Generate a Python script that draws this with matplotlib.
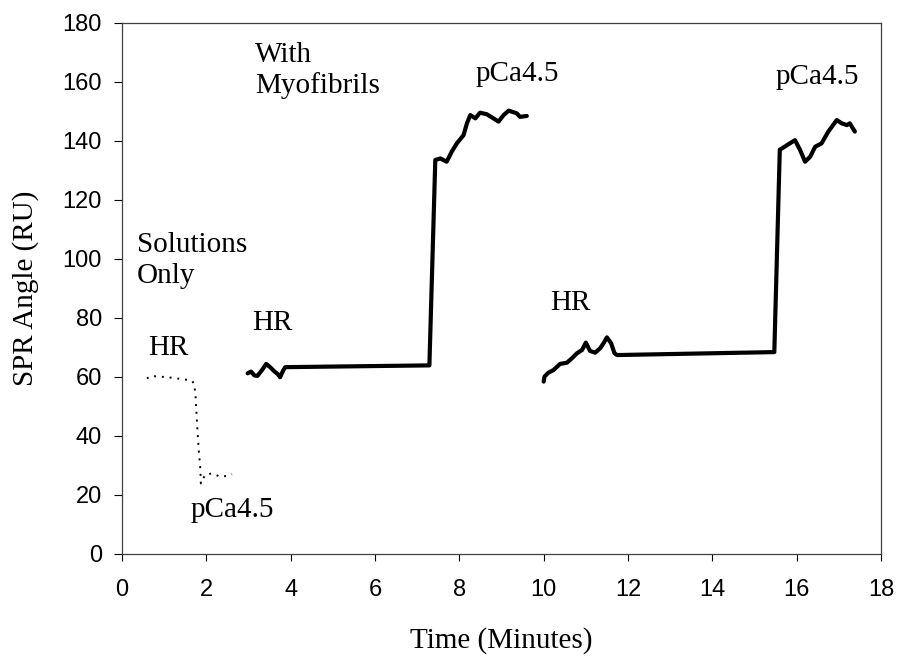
import matplotlib
matplotlib.use('Agg')
import matplotlib.pyplot as plt

# solutions only (dotted trace)
sol_time = [0.59, 0.71, 1.07, 1.46, 1.66, 1.71, 1.74, 1.78, 1.82, 1.86, 1.87, 1.97, 2.13, 2.33, 2.45, 2.61]
sol_spr = [59.5, 60.3, 59.9, 59.2, 58.7, 57.6, 54.4, 44.3, 35.2, 28.5, 23.9, 26.8, 27.3, 26.2, 26.4, 27.0]

# with myofibrils, first run
run1_time = [2.98, 3.06, 3.14, 3.21, 3.32, 3.42, 3.52, 3.61, 3.69, 3.75, 3.82, 3.87, 7.29, 7.43,
             7.55, 7.70, 7.82, 7.94, 8.10, 8.18, 8.26, 8.38, 8.49, 8.65, 8.93, 9.05, 9.17, 9.36, 9.44, 9.60]
run1_spr = [61.2, 61.8, 60.5, 60.3, 62.3, 64.4, 63.2, 61.9, 61.0, 59.9, 62.1, 63.3, 63.9, 133.5,
            134.0, 132.9, 136.3, 139.1, 141.9, 145.9, 148.7, 147.6, 149.5, 149.0, 146.5, 148.7, 150.2, 149.3, 148.1, 148.4]

# with myofibrils, second run
run2_time = [10.00, 10.02, 10.11, 10.23, 10.39, 10.55, 10.67, 10.79, 10.91, 11.00, 11.10, 11.22, 11.34, 11.42,
             11.50, 11.60, 11.68, 11.74, 15.47, 15.60, 15.65, 15.77, 15.96, 16.08, 16.20, 16.32, 16.44,
             16.59, 16.75, 16.95, 17.07, 17.19, 17.26, 17.38]
run2_spr = [58.4, 60.1, 61.4, 62.3, 64.4, 64.8, 66.3, 68.0, 69.1, 71.6, 68.8, 68.2, 69.7, 71.4,
            73.4, 71.4, 68.0, 67.4, 68.4, 137.0, 137.4, 138.5, 140.2, 136.9, 132.9, 134.6, 138.0,
            139.1, 143.1, 147.0, 145.9, 145.3, 145.9, 143.1]

# (text, x, y) in data units, left aligned on baseline
notes = [
    ('With', 3.16, 166.8),
    ('Myofibrils', 3.16, 156.1),
    ('Solutions', 0.36, 102.4),
    ('Only', 0.36, 91.7),
    ('HR', 0.63, 67.4),
    ('pCa4.5', 1.62, 12.6),
    ('HR', 3.08, 75.9),
    ('pCa4.5', 8.38, 160.2),
    ('HR', 10.15, 82.7),
    ('pCa4.5', 15.49, 159.4),
]

serif = 'Liberation Serif'
sans = 'Liberation Sans'

fig = plt.figure(figsize=(9.01, 6.56), dpi=100)
ax = fig.add_axes([0.1354, 0.1555, 0.8424, 0.8099])

ax.plot(sol_time, sol_spr, color='black', lw=1.4, linestyle=(0, (1, 3)))
ax.plot(run1_time, run1_spr, color='black', lw=3, solid_joinstyle='round', solid_capstyle='round')
ax.plot(run2_time, run2_spr, color='black', lw=3, solid_joinstyle='round', solid_capstyle='round')

for txt, x, y in notes:
    ax.text(x, y, txt, fontsize=21, family=serif, ha='left', va='baseline')

ax.set_xlim(0, 18)
ax.set_ylim(0, 180)
ax.set_xticks(range(0, 19, 2))
ax.set_yticks(range(0, 181, 20))

for lab in ax.get_xticklabels() + ax.get_yticklabels():
    lab.set_family(sans)
    lab.set_fontsize(17)
ax.tick_params(axis='x', direction='out', length=5, width=0.8, pad=13)
ax.tick_params(axis='y', direction='out', length=5.5, width=0.8, pad=9)

for s in ax.spines.values():
    s.set_linewidth(0.9)
    s.set_color('#404040')

ax.set_xlabel('Time (Minutes)', fontsize=21, family=serif, va='baseline')
ax.xaxis.set_label_coords(0.5, -0.177)
ax.set_ylabel('SPR Angle (RU)', fontsize=21, family=serif, va='center')
ax.yaxis.set_label_coords(-0.1265, 0.5)

plt.savefig('out.png', dpi=100)
